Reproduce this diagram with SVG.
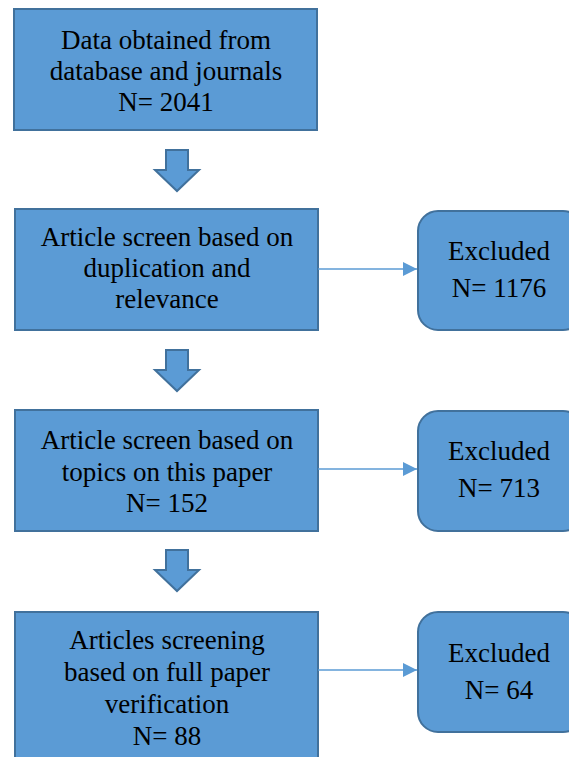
<svg xmlns="http://www.w3.org/2000/svg" width="569" height="757" viewBox="0 0 569 757">
<defs>
<style>
.box{fill:#5B9BD5;stroke:#41719C;stroke-width:2}
.t{font-family:'Liberation Serif','Times New Roman',serif;font-size:27px;fill:#000;text-anchor:middle}
.con{stroke:#5B9BD5;stroke-width:1.5;fill:none}
.down{fill:#5B9BD5;stroke:#41719C;stroke-width:2;stroke-linejoin:miter}
</style>
<marker id="ah" viewBox="0 0 10 10" refX="10" refY="5" markerWidth="14" markerHeight="14" markerUnits="userSpaceOnUse" orient="auto">
<path d="M0,0 L10,5 L0,10 z" fill="#5B9BD5"/>
</marker>
</defs>
<g id="n1">
<rect class="box" x="14" y="9" width="303" height="121"/>
<text class="t" x="166" y="49">Data obtained from</text>
<text class="t" x="166" y="80">database and journals</text>
<text class="t" x="166" y="111">N= 2041</text>
</g>
<g id="n2">
<rect class="box" x="15" y="209" width="303" height="121"/>
<text class="t" x="167" y="246">Article screen based on</text>
<text class="t" x="167" y="277">duplication and</text>
<text class="t" x="167" y="308">relevance</text>
</g>
<g id="n3">
<rect class="box" x="15" y="410" width="303" height="121"/>
<text class="t" x="167" y="449">Article screen based on</text>
<text class="t" x="167" y="481">topics on this paper</text>
<text class="t" x="167" y="512">N= 152</text>
</g>
<g id="n4">
<rect class="box" x="15" y="612" width="303" height="160"/>
<text class="t" x="167" y="649">Articles screening</text>
<text class="t" x="167" y="681">based on full paper</text>
<text class="t" x="167" y="713">verification</text>
<text class="t" x="167" y="745">N= 88</text>
</g>
<g id="e1">
<rect class="box" x="418" y="211" width="165" height="119" rx="20" ry="20"/>
<text class="t" x="499" y="260">Excluded</text>
<text class="t" x="499" y="297">N= 1176</text>
</g>
<g id="e2">
<rect class="box" x="418" y="411" width="165" height="120" rx="20" ry="20"/>
<text class="t" x="499" y="460">Excluded</text>
<text class="t" x="499" y="497">N= 713</text>
</g>
<g id="e3">
<rect class="box" x="418" y="612" width="165" height="120" rx="20" ry="20"/>
<text class="t" x="499" y="662">Excluded</text>
<text class="t" x="499" y="699">N= 64</text>
</g>
<g id="connectors">
<line class="con" x1="318" y1="269" x2="417" y2="269" marker-end="url(#ah)"/>
<line class="con" x1="318" y1="469" x2="417" y2="469" marker-end="url(#ah)"/>
<line class="con" x1="318" y1="670" x2="417" y2="670" marker-end="url(#ah)"/>
<path class="down" d="M166,150 H188 V170 H199 L177,191 L155,170 H166 Z"/>
<path class="down" d="M166,350 H188 V370 H199 L177,391 L155,370 H166 Z"/>
<path class="down" d="M166,550 H188 V570 H199 L177,591 L155,570 H166 Z"/>
</g>
</svg>
